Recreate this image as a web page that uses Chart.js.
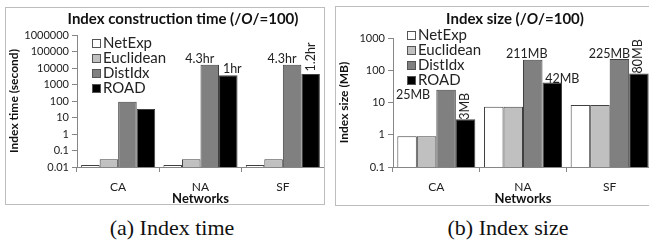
<!DOCTYPE html>
<html>
<head>
<meta charset="utf-8">
<script src="https://cdn.jsdelivr.net/npm/chart.js@4/dist/chart.umd.min.js"></script>
<style>
  html, body { margin:0; padding:0; background:#fff; }
  body { width:649px; height:242px; position:relative; overflow:hidden; font-family: Lato, "Liberation Sans", sans-serif; }
  .box { position:absolute; border:1px solid #bdbdbd; background:#fff; overflow:hidden; }
  .box canvas { position:absolute; left:0; top:0; }
  .ttl { position:absolute; transform:translate(-50%,-50%); white-space:nowrap; font-weight:bold; font-size:15px; color:#111; }
  .cap { position:absolute; transform:translate(-50%,-50%); white-space:nowrap; font-family:"Liberation Serif", "DejaVu Serif", serif; font-size:22px; color:#111; }
</style>
</head>
<body>
<div class="box" id="boxA" style="left:5px; top:7px; width:318px; height:196px;">
  <canvas id="cA" width="318" height="199" style="width:318px;height:199px"></canvas>
</div>
<div class="box" id="boxB" style="left:335px; top:6px; width:320px; height:198px;">
  <canvas id="cB" width="320" height="200" style="width:320px;height:200px"></canvas>
</div>
<div class="ttl" style="left:183px; top:18px;">Index construction time (/<i>O</i>/=100)</div>
<div class="ttl" style="left:515px; top:18px;">Index size (/<i>O</i>/=100)</div>
<div class="cap" style="left:172px; top:228px;">(a) Index time</div>
<div class="cap" style="left:508px; top:228px;">(b) Index size</div>
<script>
// ---------- data ----------
const categories = ['CA', 'NA', 'SF'];
const seriesNames = ['NetExp', 'Euclidean', 'DistIdx', 'ROAD'];

const timeNetExp    = [0.013, 0.013, 0.013];
const timeEuclidean = [0.03, 0.03, 0.03];
const timeDistIdx   = [90, 15480, 15480];
const timeROAD      = [33, 3600, 4320];
const timeTicks     = [0.01, 0.1, 1, 10, 100, 1000, 10000, 100000, 1000000];
const timeLabelsDistIdx = ['', '4.3hr', '4.3hr'];
const timeLabelsROAD    = ['', '1hr', '1.2hr'];

const sizeNetExp    = [0.9, 7.4, 8.3];
const sizeEuclidean = [0.9, 7.4, 8.3];
const sizeDistIdx   = [25, 211, 225];
const sizeROAD      = [3, 42, 80];
const sizeTicks     = [0.1, 1, 10, 100, 1000];
const sizeLabelsDistIdx = ['25MB', '211MB', '225MB'];
const sizeLabelsROAD    = ['3MB', '42MB', '80MB'];

// ---------- styles ----------
const FONT = 'Lato, "Liberation Sans", sans-serif';
const colors = ['#ffffff', '#c0c0c0', '#808080', '#000000'];
const AXIS = '#868686';

const insideLegend = {
  id: 'insideLegend',
  afterDraw(chart, args, opts) {
    const { ctx, chartArea } = chart;
    ctx.save();
    ctx.font = '15px ' + FONT;
    ctx.textBaseline = 'middle';
    ctx.textAlign = 'left';
    chart.data.datasets.forEach((ds, i) => {
      const x = Math.round(chartArea.left + opts.x);
      const y = Math.round(chartArea.top + opts.y + i * opts.spacing);
      ctx.fillStyle = ds.backgroundColor;
      ctx.fillRect(x + 0.5, y - 4 + 0.5, 8, 8);
      ctx.strokeStyle = '#555';
      ctx.lineWidth = 1;
      ctx.strokeRect(x + 0.5, y - 4 + 0.5, 8, 8);
      ctx.fillStyle = '#222';
      ctx.fillText(ds.label, x + 11, y + 0.5);
    });
    ctx.restore();
  }
};

const barLabels = {
  id: 'barLabels',
  afterDatasetsDraw(chart, args, opts) {
    const { ctx } = chart;
    ctx.save();
    ctx.font = '12.5px ' + FONT;
    ctx.fillStyle = '#222';
    ctx.textAlign = 'center';
    ctx.textBaseline = 'middle';
    opts.items.forEach(it => {
      if (!it.text) return;
      const el = chart.getDatasetMeta(it.ds).data[it.i];
      const x = el.x + it.dx, y = el.y + it.dy;
      ctx.save();
      ctx.translate(x, y);
      if (it.rot) ctx.rotate(-Math.PI / 2);
      ctx.fillText(it.text, 0, 0);
      ctx.restore();
    });
    ctx.restore();
  }
};

function makeChart(id, values, ticks, yTitle, yMin, yMax, layoutCfg, legendPos, labelItems) {
  return new Chart(document.getElementById(id), {
    type: 'bar',
    data: {
      labels: categories,
      datasets: seriesNames.map((name, k) => ({
        label: name,
        data: values[k],
        backgroundColor: colors[k],
        borderColor: '#404040',
        borderWidth: 1,
        categoryPercentage: layoutCfg.catPct,
        barPercentage: 1.0
      }))
    },
    options: {
      responsive: false,
      animation: false,
      events: [],
      layout: { padding: { top: layoutCfg.top, right: layoutCfg.right, left: 0, bottom: 0 } },
      plugins: {
        legend: { display: false },
        tooltip: { enabled: false },
        title: { display: false },
        insideLegend: legendPos,
        barLabels: { items: labelItems }
      },
      scales: {
        x: {
          grid: { display: true, drawOnChartArea: false, offset: true, tickLength: 5, color: AXIS },
          border: { color: AXIS },
          ticks: { font: { family: FONT, size: 12 }, color: '#222', padding: 8 },
          title: { display: true, text: 'Networks', font: { family: FONT, size: 13, weight: 'bold' }, color: '#111', padding: { top: 0, bottom: 0 } },
          afterFit(scale) { scale.height = layoutCfg.xH; }
        },
        y: {
          type: 'logarithmic',
          min: yMin, max: yMax,
          grid: { display: true, drawOnChartArea: false, tickLength: 5, color: AXIS },
          border: { color: AXIS },
          afterBuildTicks(scale) { scale.ticks = ticks.map(v => ({ value: v })); },
          ticks: { font: { family: FONT, size: 11 }, color: '#222', padding: 3, callback: v => String(v) },
          title: { display: true, text: yTitle, font: { family: FONT, size: 12, weight: 'bold' }, color: '#111', padding: { top: 1, bottom: 0 } },
          afterFit(scale) { scale.width = layoutCfg.yW; }
        }
      }
    },
    plugins: [insideLegend, barLabels]
  });
}

makeChart('cA',
  [timeNetExp, timeEuclidean, timeDistIdx, timeROAD],
  timeTicks, 'Index time (second)', 0.01, 1000000,
  { top: 27, right: 0, xH: 40, yW: 71, catPct: 0.9 },
  { x: 15, y: 8, spacing: 15 },
  [
    { ds: 2, i: 0, text: timeLabelsDistIdx[0], dx: 0, dy: -6 },
    { ds: 2, i: 1, text: timeLabelsDistIdx[1], dx: -10, dy: -6 },
    { ds: 2, i: 2, text: timeLabelsDistIdx[2], dx: -10, dy: -6 },
    { ds: 3, i: 0, text: timeLabelsROAD[0], dx: 0, dy: -6 },
    { ds: 3, i: 1, text: timeLabelsROAD[1], dx: 4, dy: -6 },
    { ds: 3, i: 2, text: timeLabelsROAD[2], dx: 0, dy: -17, rot: true }
  ]);

makeChart('cB',
  [sizeNetExp, sizeEuclidean, sizeDistIdx, sizeROAD],
  sizeTicks, 'Index size (MB)', 0.1, 1000,
  { top: 31, right: 3, xH: 40, yW: 57, catPct: 0.9 },
  { x: 14, y: -3, spacing: 15 },
  [
    { ds: 2, i: 0, text: sizeLabelsDistIdx[0], dx: -33, dy: 5 },
    { ds: 2, i: 1, text: sizeLabelsDistIdx[1], dx: -6, dy: -6 },
    { ds: 2, i: 2, text: sizeLabelsDistIdx[2], dx: -10, dy: -5 },
    { ds: 3, i: 0, text: sizeLabelsROAD[0], dx: -1, dy: -13, rot: true },
    { ds: 3, i: 1, text: sizeLabelsROAD[1], dx: 10, dy: -3 },
    { ds: 3, i: 2, text: sizeLabelsROAD[2], dx: -1, dy: -17, rot: true }
  ]);
</script>
</body>
</html>
